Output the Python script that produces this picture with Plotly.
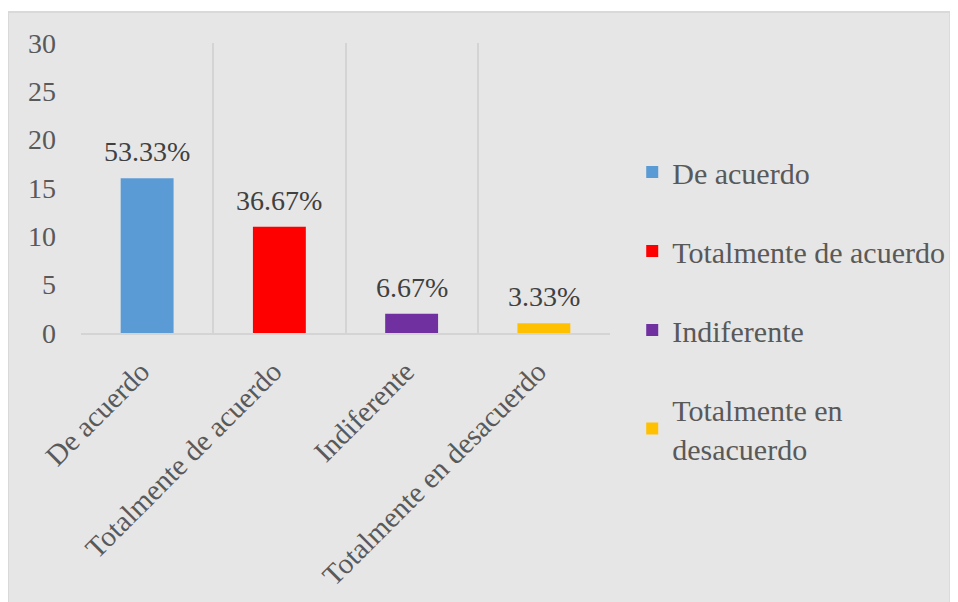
import plotly.graph_objects as go

categorias = ["De acuerdo", "Totalmente de acuerdo", "Indiferente", "Totalmente en desacuerdo"]
nombres_leyenda = ["De acuerdo", "Totalmente de acuerdo", "Indiferente", "Totalmente en<br>desacuerdo"]
frecuencias = [16, 11, 2, 1]
porcentajes = ["53.33%", "36.67%", "6.67%", "3.33%"]
colores = ["#5b9bd5", "#ff0000", "#7030a0", "#ffc000"]

FUENTE = "Times New Roman"

fig = go.Figure()
for i, cat in enumerate(categorias):
    fig.add_trace(
        go.Bar(
            x=[cat],
            y=[frecuencias[i]],
            name=nombres_leyenda[i],
            legendgroup=cat,
            marker=dict(color=colores[i], line_width=0),
        )
    )
    # etiqueta de porcentaje encima de cada barra
    fig.add_annotation(
        x=cat, y=frecuencias[i], text=porcentajes[i],
        showarrow=False, yanchor="bottom", yshift=9,
        font=dict(family=FUENTE, size=28, color="#404040"),
    )

# fondo gris con borde
fig.add_shape(
    type="rect", xref="paper", yref="paper",
    x0=-0.138, x1=1.643, y0=-0.95, y1=1.107,
    fillcolor="#e6e6e6", line=dict(color="#d9d9d9", width=2), layer="below",
)

# la página tiene 8px de margen, la figura se ajusta para quedar dentro de la ventana
fig.update_layout(
    width=950,
    height=594,
    margin=dict(l=73, r=348, t=35, b=269, autoexpand=False),
    paper_bgcolor="white",
    plot_bgcolor="rgba(0,0,0,0)",
    font=dict(family=FUENTE, size=28, color="#595959"),
    bargap=0.6,
    barmode="overlay",
    showlegend=True,
    legend=dict(
        x=1.042, y=0.645, xanchor="left", yanchor="top",
        bgcolor="rgba(0,0,0,0)",
        font=dict(family=FUENTE, size=30, color="#595959"),
        tracegroupgap=37,
        itemwidth=30,
        maxheight=590,
    ),
    xaxis=dict(
        type="category",
        categoryorder="array",
        categoryarray=categorias,
        tickangle=-45,
        tickson="boundaries",
        showgrid=True,
        gridcolor="#d4d4d4",
        gridwidth=2,
        showline=True,
        linecolor="#d4d4d4",
        linewidth=2,
        ticks="",
        automargin=False,
        ticklabelstandoff=8,
        ticklabelshift=-6,
        tickfont=dict(family=FUENTE, size=29, color="#595959"),
    ),
    yaxis=dict(
        range=[0, 30],
        dtick=5,
        showgrid=False,
        zeroline=False,
        showline=False,
        ticks="",
        automargin=False,
        ticklabelstandoff=24,
        tickfont=dict(family=FUENTE, size=28, color="#595959"),
    ),
)

fig.write_html("out.html")
